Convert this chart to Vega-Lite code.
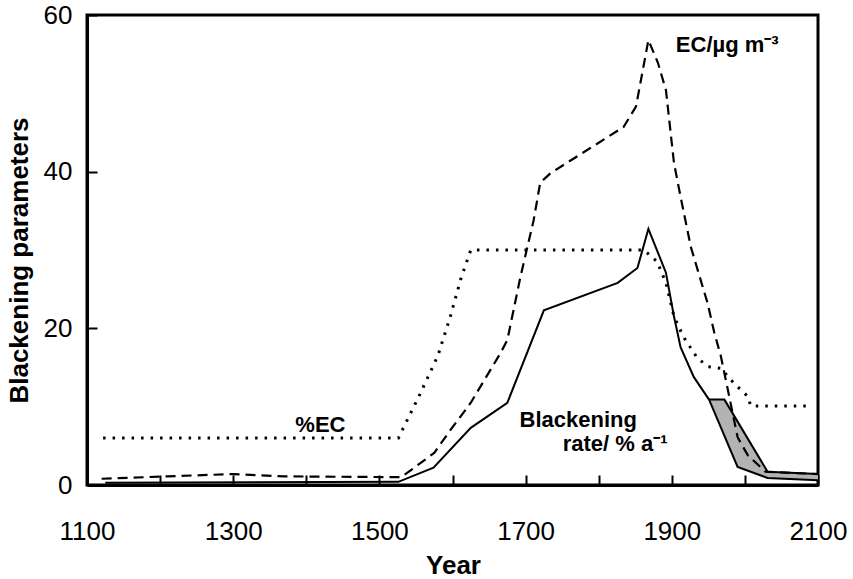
{
  "$schema": "https://vega.github.io/schema/vega-lite/v6.json",
  "width": 731,
  "height": 470,
  "autosize": "none",
  "padding": {"left": 87, "top": 15, "right": 35, "bottom": 94},
  "background": "white",
  "config": {
    "view": {"stroke": "black", "strokeWidth": 3},
    "font": "Liberation Sans",
    "axis": {
      "grid": false,
      "domainColor": "black",
      "domainWidth": 3,
      "tickColor": "black",
      "tickWidth": 2,
      "tickSize": -10,
      "labelColor": "black",
      "labelFont": "Liberation Sans",
      "labelFontSize": 26,
      "labelOverlap": false,
      "labelBound": false,
      "labelFlush": false,
      "titleFont": "Liberation Sans",
      "titleFontSize": 26,
      "titleFontWeight": "bold",
      "titleColor": "black"
    }
  },
  "datasets": {
    "pec": [
      {"year": 1122, "v": 6}, {"year": 1526, "v": 6}, {"year": 1555, "v": 11.5}, {"year": 1580, "v": 16.5},
      {"year": 1597, "v": 21.5}, {"year": 1612, "v": 26.5}, {"year": 1625, "v": 30}, {"year": 1862, "v": 30},
      {"year": 1880, "v": 28.5}, {"year": 1892, "v": 25.8}, {"year": 1903, "v": 21.5}, {"year": 1916, "v": 18.9},
      {"year": 1935, "v": 16.2}, {"year": 1950, "v": 15.1}, {"year": 1967, "v": 14.9}, {"year": 1985, "v": 13},
      {"year": 2004, "v": 11.3}, {"year": 2008, "v": 10.1}, {"year": 2085, "v": 10.1}
    ],
    "ec": [
      {"year": 1120, "v": 0.8}, {"year": 1210, "v": 1.1}, {"year": 1300, "v": 1.4}, {"year": 1370, "v": 1.1},
      {"year": 1530, "v": 1.0}, {"year": 1575, "v": 4.1}, {"year": 1597, "v": 7.0}, {"year": 1625, "v": 10.5},
      {"year": 1666, "v": 16.9}, {"year": 1675, "v": 18.5}, {"year": 1693, "v": 26.6}, {"year": 1711, "v": 33.8},
      {"year": 1720, "v": 38.6}, {"year": 1734, "v": 39.8}, {"year": 1834, "v": 45.7}, {"year": 1851, "v": 48.3},
      {"year": 1868, "v": 56.8}, {"year": 1881, "v": 53.9}, {"year": 1892, "v": 50.4}, {"year": 1903, "v": 41.1},
      {"year": 1912, "v": 36.8}, {"year": 1926, "v": 30.4}, {"year": 1949, "v": 23.2}, {"year": 1958, "v": 19.5},
      {"year": 1967, "v": 16.5}, {"year": 1977, "v": 12}, {"year": 1990, "v": 6.1}, {"year": 2004, "v": 3.8},
      {"year": 2028, "v": 1.7}, {"year": 2100, "v": 1.4}
    ],
    "rate": [
      {"year": 1125, "v": 0.3}, {"year": 1526, "v": 0.4}, {"year": 1574, "v": 2.2}, {"year": 1625, "v": 7.3},
      {"year": 1675, "v": 10.5}, {"year": 1725, "v": 22.3}, {"year": 1826, "v": 25.8}, {"year": 1853, "v": 27.7},
      {"year": 1868, "v": 32.7}, {"year": 1892, "v": 27.1}, {"year": 1903, "v": 21.5}, {"year": 1912, "v": 17.6},
      {"year": 1930, "v": 13.8}, {"year": 1951, "v": 10.9}
    ],
    "band": [
      {"year": 1951, "v": 10.9, "v2": 10.9}, {"year": 1972, "v": 6.3, "v2": 10.9},
      {"year": 1990, "v": 2.3, "v2": 8.1}, {"year": 2031, "v": 0.9, "v2": 1.7},
      {"year": 2100, "v": 0.6, "v2": 1.4}
    ],
    "edges": [
      {"edge": "lower", "year": 1951, "v": 10.9}, {"edge": "lower", "year": 1990, "v": 2.3},
      {"edge": "lower", "year": 2031, "v": 0.9}, {"edge": "lower", "year": 2100, "v": 0.6},
      {"edge": "upper", "year": 1951, "v": 10.9}, {"edge": "upper", "year": 1972, "v": 10.9},
      {"edge": "upper", "year": 2031, "v": 1.7}, {"edge": "upper", "year": 2100, "v": 1.4}
    ],
    "notes": [
      {"year": 1905.5, "v": 55.3, "text": "EC/µg m⁻³"},
      {"year": 1385, "v": 6.77, "text": "%EC"},
      {"year": 1691.8, "v": 7.4, "text": "Blackening"},
      {"year": 1750.7, "v": 4.34, "text": "rate/ % a⁻¹"}
    ]
  },
  "encoding": {
    "x": {
      "field": "year", "type": "quantitative",
      "scale": {"domain": [1100, 2100], "nice": false, "zero": false},
      "axis": {
        "values": [1100, 1200, 1300, 1400, 1500, 1600, 1700, 1800, 1900, 2000, 2100],
        "format": "d",
        "labelExpr": "datum.value % 200 == 100 ? datum.label : ''",
        "labelPadding": 64,
        "labelBaseline": "alphabetic",
        "title": "Year",
        "titleX": 366,
        "titleY": 88,
        "titleBaseline": "alphabetic"
      }
    },
    "y": {
      "field": "v", "type": "quantitative",
      "scale": {"domain": [0, 60], "nice": false, "zero": true},
      "axis": {
        "values": [0, 20, 40, 60],
        "labelPadding": 25,
        "labelBaseline": "middle",
        "title": "Blackening parameters",
        "titleX": -60,
        "titleY": 245,
        "titleAngle": 270,
        "titleAlign": "center",
        "titleBaseline": "alphabetic"
      }
    }
  },
  "layer": [
    {
      "data": {"name": "band"},
      "mark": {"type": "area", "color": "#b3b3b3", "opacity": 1},
      "encoding": {"y2": {"field": "v2"}}
    },
    {
      "data": {"name": "edges"},
      "mark": {"type": "line", "color": "black", "strokeWidth": 2},
      "encoding": {"detail": {"field": "edge"}}
    },
    {
      "data": {"name": "rate"},
      "mark": {"type": "line", "color": "black", "strokeWidth": 2},
      "encoding": {}
    },
    {
      "data": {"name": "ec"},
      "mark": {"type": "line", "color": "black", "strokeWidth": 2.2, "strokeDash": [10, 6]},
      "encoding": {}
    },
    {
      "data": {"name": "pec"},
      "mark": {"type": "line", "color": "black", "strokeWidth": 3, "strokeDash": [2.5, 7]},
      "encoding": {}
    },
    {
      "data": {"name": "notes"},
      "mark": {"type": "text", "align": "left", "baseline": "alphabetic", "font": "Liberation Sans", "fontSize": 22, "fontWeight": "bold", "color": "black"},
      "encoding": {"text": {"field": "text"}}
    }
  ]
}
